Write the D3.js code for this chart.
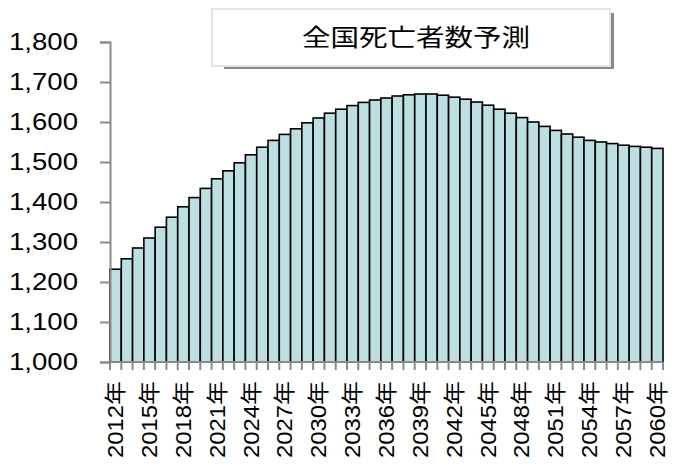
<!DOCTYPE html>
<html>
<head>
<meta charset="utf-8">
<script src="https://cdn.jsdelivr.net/npm/d3@7"></script>
<style>
  html, body { margin: 0; padding: 0; background: #fff; }
  svg { display: block; }
  text { font-family: "Liberation Sans", Arial, "Noto Sans CJK JP", sans-serif; fill: #000; }
</style>
</head>
<body>
<div id="chart"></div>
<script>
const years = d3.range(2012, 2061).map(String);
const deaths = [1232, 1258, 1285, 1310, 1337, 1362, 1388, 1411, 1434, 1458,
  1478, 1498, 1518, 1537, 1554, 1569, 1583, 1598, 1610, 1622,
  1632, 1641, 1649, 1655, 1660, 1665, 1668, 1670, 1670, 1667,
  1662, 1657, 1650, 1642, 1632, 1622, 1611, 1600, 1589, 1579,
  1570, 1562, 1554, 1550, 1546, 1542, 1539, 1537, 1534];
const yTicks = [1000, 1100, 1200, 1300, 1400, 1500, 1600, 1700, 1800];
const labelYears = years.filter((d, i) => i % 3 === 0);
const title = "全国死亡者数予測";

const W = 673, H = 465;
const svg = d3.select("#chart").append("svg").attr("width", W).attr("height", H);

const x = d3.scaleBand().domain(years).range([110, 663]).padding(0);
const y = d3.scaleLinear().domain([1000, 1800]).range([362, 42]);
const axisColor = "#8a8a8a";

// bars
svg.append("g").selectAll("rect").data(deaths).join("rect")
  .attr("x", (d, i) => x(years[i]))
  .attr("y", d => y(d))
  .attr("width", x.bandwidth())
  .attr("height", d => y(1000) - y(d))
  .attr("fill", "#bcdfe2")
  .attr("stroke", "#000")
  .attr("stroke-width", 1.6);

// y axis
const yAxis = svg.append("g").attr("transform", "translate(110,0)")
  .call(d3.axisLeft(y).tickValues(yTicks).tickSize(10).tickPadding(22)
    .tickFormat(d3.format(",")));
yAxis.select(".domain").attr("stroke", axisColor).attr("stroke-width", 2);
yAxis.selectAll(".tick line").attr("stroke", axisColor).attr("stroke-width", 2);
yAxis.selectAll(".tick text")
  .attr("font-size", 23)
  .attr("font-family", "'Liberation Sans', Arial, sans-serif")
  .attr("fill", "#000")
  .attr("dy", "0.34em")
  .attr("textLength", 69)
  .attr("lengthAdjust", "spacingAndGlyphs");

// x axis
const xg = svg.append("g");
xg.append("line")
  .attr("x1", 110).attr("x2", 663).attr("y1", y(1000)).attr("y2", y(1000))
  .attr("stroke", axisColor).attr("stroke-width", 2);
const bounds = years.map(d => x(d)).concat([x.range()[1]]);
xg.selectAll("line.tk").data(bounds).join("line").attr("class", "tk")
  .attr("x1", d => d).attr("x2", d => d)
  .attr("y1", y(1000)).attr("y2", y(1000) + 8)
  .attr("stroke", axisColor).attr("stroke-width", 2);
xg.selectAll("text").data(labelYears).join("text")
  .attr("transform", d => `translate(${x(d) + x.bandwidth() / 2 + 7.5},381) rotate(-90)`)
  .attr("text-anchor", "end")
  .attr("font-size", 21.5)
  .attr("textLength", 77)
  .attr("lengthAdjust", "spacingAndGlyphs")
  .text(d => d + "年");

// title box
const tb = svg.append("g");
tb.append("rect").attr("x", 224).attr("y", 13).attr("width", 390).attr("height", 56).attr("fill", "#888");
tb.append("rect").attr("x", 212).attr("y", 9).attr("width", 398).attr("height", 57)
  .attr("fill", "#fff").attr("stroke", "#e4e4e4").attr("stroke-width", 2);
tb.append("text")
  .attr("x", 416).attr("y", 46)
  .attr("text-anchor", "middle")
  .attr("font-size", 23.5)
  .attr("font-family", "'Noto Sans CJK JP', sans-serif")
  .attr("textLength", 228)
  .attr("lengthAdjust", "spacingAndGlyphs")
  .text(title);
</script>
</body>
</html>
